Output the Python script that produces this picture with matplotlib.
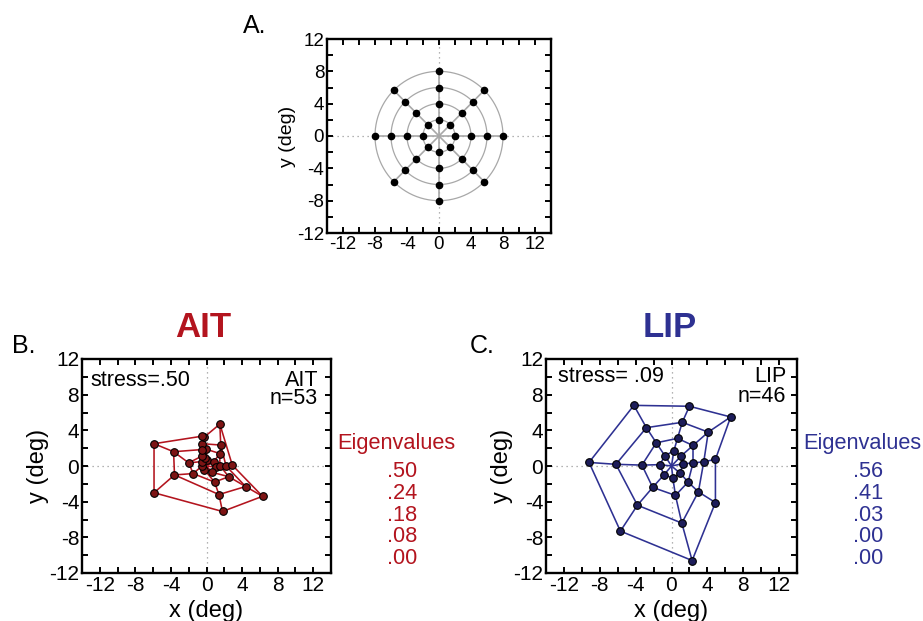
import numpy as np
import matplotlib
matplotlib.use("Agg")
import matplotlib.pyplot as plt

plt.rcParams['font.family'] = ['Liberation Sans', 'DejaVu Sans']

W, H = 923, 621

# ---------------- data ----------------
# Panel A: stimulus grid (polar), radii and angles
a_radii = [2, 4, 6, 8]
a_angles_deg = [0, 45, 90, 135, 180, 225, 270, 315]

# Panels B/C: recovered configurations; each ring listed by spoke
# spoke order: top, upper-right, right, lower-right, bottom, lower-left, left, upper-left
ait_ring1_x = [0.1, 0.8, 1.1, 0.6, -0.25, -0.5, -0.5, -0.2]
ait_ring1_y = [0.7, 0.45, -0.15, -0.7, -0.4, 0.0, 0.5, 0.9]
ait_ring2_x = [-0.1, 1.5, 1.5, 2.5, 0.9, -1.5, -2.0, -0.45]
ait_ring2_y = [1.9, 1.4, 0.05, -1.2, -1.8, -0.85, 0.35, 1.15]
ait_ring3_x = [-0.5, 1.6, 2.2, 4.4, 1.4, -3.6, -3.7, -0.45]
ait_ring3_y = [2.5, 2.35, 0.0, -2.3, -3.2, -1.0, 1.6, 1.85]
ait_ring4_x = [-0.3, 1.5, 2.9, 6.3, 1.8, -5.9, -5.9, -0.45]
ait_ring4_y = [3.2, 4.7, 0.1, -3.4, -5.1, -3.0, 2.5, 3.35]

lip_ring1_x = [0.26, 1.1, 1.3, 0.96, 0.15, -0.85, -1.3, -0.74]
lip_ring1_y = [1.7, 1.15, 0.26, -0.8, -1.33, -1.0, 0.15, 1.15]
lip_ring2_x = [0.67, 2.4, 2.4, 1.85, 0.44, -2.1, -3.3, -1.7]
lip_ring2_y = [3.1, 2.3, 0.33, -1.8, -3.3, -2.4, 0.1, 2.6]
lip_ring3_x = [1.2, 4.1, 3.6, 3.0, 1.15, -3.8, -6.2, -2.8]
lip_ring3_y = [4.9, 3.8, 0.48, -2.9, -6.4, -4.4, 0.19, 4.3]
lip_ring4_x = [2.0, 6.6, 4.9, 4.9, 2.3, -5.7, -9.2, -4.2]
lip_ring4_y = [6.7, 5.5, 0.74, -4.1, -10.6, -7.3, 0.4, 6.8]

ait_stress = "stress=.50"
lip_stress = "stress= .09"
ait_n = 53
lip_n = 46
ait_eigen = [".50", ".24", ".18", ".08", ".00"]
lip_eigen = [".56", ".41", ".03", ".00", ".00"]

tick_values = list(range(-12, 13, 2))
tick_labels = [str(v) if v % 4 == 0 else "" for v in tick_values]

RED = "#b3141e"
RED_FACE = "#7d1414"
BLUE = "#2e3192"
BLUE_FACE = "#1d1d5a"

# ---------------- helpers ----------------
def frac(x, y):
    return x / W, 1 - y / H

def box(l, t, r, b):
    return [l / W, 1 - b / H, (r - l) / W, (b - t) / H]

def style_axes(ax, fs):
    ax.set_xlim(-14, 14)
    ax.set_ylim(-12, 12)
    ax.set_xticks(tick_values)
    ax.set_yticks(tick_values)
    ax.set_xticklabels(tick_labels)
    ax.set_yticklabels(tick_labels)
    ax.tick_params(direction='in', top=True, right=True, length=4.5, width=1.4,
                   labelsize=fs, pad=2)
    for s in ax.spines.values():
        s.set_linewidth(1.7)
    ax.axhline(0, color='#9a9a9a', ls=(0, (1, 3)), lw=0.9, zorder=0)
    ax.axvline(0, color='#9a9a9a', ls=(0, (1, 3)), lw=0.9, zorder=0)

def draw_web(ax, rings_x, rings_y, lcol, fcol):
    rx = np.array(rings_x)
    ry = np.array(rings_y)
    # spokes from centre
    for k in range(rx.shape[1]):
        xs = np.concatenate([[0], rx[:, k]])
        ys = np.concatenate([[0], ry[:, k]])
        ax.plot(xs, ys, color=lcol, lw=1.15, zorder=2)
    # rings
    for i in range(rx.shape[0]):
        xs = np.append(rx[i], rx[i][0])
        ys = np.append(ry[i], ry[i][0])
        ax.plot(xs, ys, color=lcol, lw=1.15, zorder=2)
    ax.plot(rx.ravel(), ry.ravel(), 'o', ms=5.5, mfc=fcol, mec='black',
            mew=0.8, zorder=3, ls='none')

fig = plt.figure(figsize=(W / 100, H / 100), dpi=100)

# ---------------- Panel A ----------------
axA = fig.add_axes(box(327, 39, 551, 233))
style_axes(axA, 13.5)
th = np.linspace(0, 2 * np.pi, 200)
for r in a_radii:
    axA.plot(r * np.cos(th), r * np.sin(th), color='#a8a8a8', lw=0.9, zorder=1)
for ang in a_angles_deg:
    t = np.deg2rad(ang)
    axA.plot([0, max(a_radii) * np.cos(t)], [0, max(a_radii) * np.sin(t)],
             color='#a8a8a8', lw=1.2, zorder=1)
    xs = [r * np.cos(t) for r in a_radii]
    ys = [r * np.sin(t) for r in a_radii]
    axA.plot(xs, ys, 'o', color='black', ms=4.5, zorder=3)
axA.set_ylabel("y (deg)", fontsize=14, labelpad=1)
fig.text(*frac(243, 33), "A.", fontsize=18, ha='left', va='baseline')

# ---------------- Panel B ----------------
axB = fig.add_axes(box(82, 359, 331, 573))
style_axes(axB, 15)
draw_web(axB, [ait_ring1_x, ait_ring2_x, ait_ring3_x, ait_ring4_x],
         [ait_ring1_y, ait_ring2_y, ait_ring3_y, ait_ring4_y], RED, RED_FACE)
axB.set_ylabel("y (deg)", fontsize=17, labelpad=0)
axB.set_xlabel("x (deg)", fontsize=17, labelpad=4)
fig.text(*frac(90, 380), ait_stress, fontsize=15.5, ha='left', va='center')
fig.text(*frac(318, 380), "AIT", fontsize=15.5, ha='right', va='center')
fig.text(*frac(318, 399), f"n={ait_n}", fontsize=15.5, ha='right', va='center')
fig.text(*frac(12, 353), "B.", fontsize=18, ha='left', va='baseline')
fig.text(*frac(203, 337), "AIT", fontsize=25, fontweight='bold', color=RED,
         ha='center', va='baseline')
fig.text(*frac(337, 443), "Eigenvalues", fontsize=15.7, color=RED,
         ha='left', va='center')
for i, v in enumerate(ait_eigen):
    fig.text(*frac(417, 471.7 + 21.7 * i), v, fontsize=15.7, color=RED,
             ha='right', va='center')

# ---------------- Panel C ----------------
axC = fig.add_axes(box(546, 359, 797, 573))
style_axes(axC, 15)
draw_web(axC, [lip_ring1_x, lip_ring2_x, lip_ring3_x, lip_ring4_x],
         [lip_ring1_y, lip_ring2_y, lip_ring3_y, lip_ring4_y], BLUE, BLUE_FACE)
axC.set_ylabel("y (deg)", fontsize=17, labelpad=0)
axC.set_xlabel("x (deg)", fontsize=17, labelpad=4)
fig.text(*frac(558, 377), lip_stress, fontsize=15.5, ha='left', va='center')
fig.text(*frac(786, 377), "LIP", fontsize=15.5, ha='right', va='center')
fig.text(*frac(786, 396), f"n={lip_n}", fontsize=15.5, ha='right', va='center')
fig.text(*frac(470, 353), "C.", fontsize=18, ha='left', va='baseline')
fig.text(*frac(670, 337), "LIP", fontsize=25, fontweight='bold', color=BLUE,
         ha='center', va='baseline')
fig.text(*frac(803, 443), "Eigenvalues", fontsize=15.7, color=BLUE,
         ha='left', va='center')
for i, v in enumerate(lip_eigen):
    fig.text(*frac(883, 471.7 + 21.7 * i), v, fontsize=15.7, color=BLUE,
             ha='right', va='center')

fig.savefig("out.png", dpi=100)
